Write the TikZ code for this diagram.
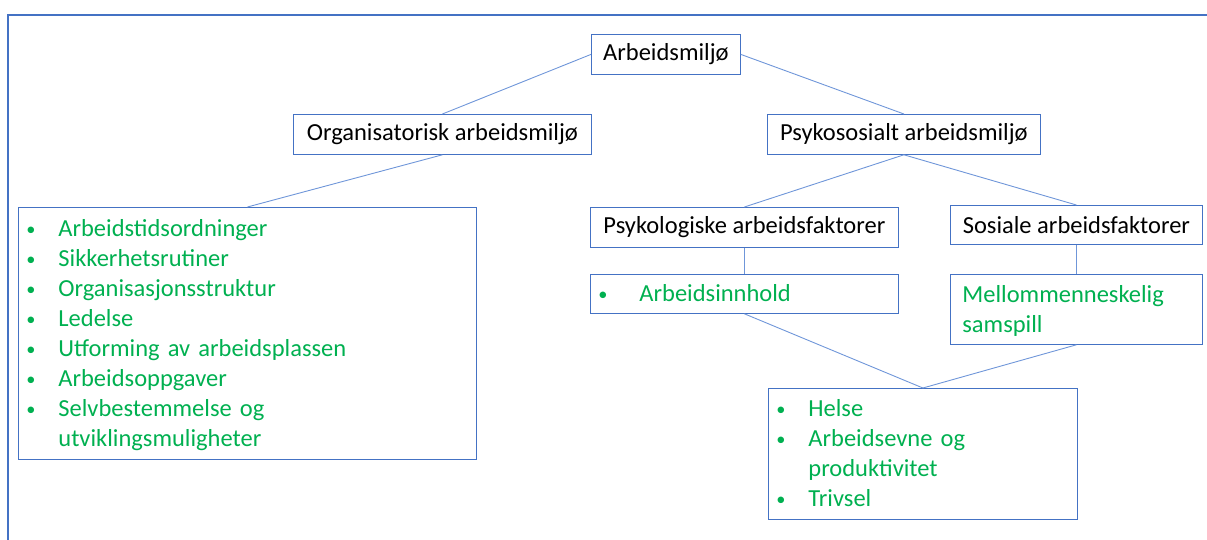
\documentclass[tikz,border=0pt]{standalone}
\usepackage{fontspec}
\setmainfont{Carlito}
\usepackage{tikz}
\usetikzlibrary{positioning}
\definecolor{kantblaa}{HTML}{4472C4}
\definecolor{linjeblaa}{HTML}{6F96D9}
\definecolor{tekstgronn}{HTML}{00B050}
\newcommand{\pkt}{\raisebox{1.4pt}{\scalebox{0.75}{\textbullet}}}
\newcommand{\senk}[1]{\raisebox{-2pt}[\height][\depth]{#1}}
\tikzstyle{boks} = [draw=kantblaa, line width=0.8pt, inner sep=0pt, anchor=north west, font=\fontsize{24.5}{30}\selectfont]
\tikzstyle{liste} = [boks, text=tekstgronn, align=left, inner xsep=8pt]
\tikzstyle{linje} = [draw=linjeblaa, line width=0.9pt]
\tikzstyle{ramme} = [draw=kantblaa, line width=1.6pt]

\begin{document}
\begin{tikzpicture}[x=1pt, y=-1pt]
		\useasboundingbox (0,0) rectangle (1207,540);
		\draw [ramme] (1207,15) -- (8,15) -- (8,540);
		\node [boks, minimum width=149pt, minimum height=40pt] (arbmiljo) at (591,34) {Arbeidsmiljø};
		\node [boks, minimum width=298pt, minimum height=40pt] (org) at (293,114) {Organisatorisk arbeidsmiljø};
		\node [boks, minimum width=273pt, minimum height=40pt] (psykos) at (767,114) {Psykososialt arbeidsmiljø};
		\node [boks, minimum width=308pt, minimum height=40pt] (psykfakt) at (590,207) {Psykologiske arbeidsfaktorer};
		\node [boks, minimum width=252pt, minimum height=39pt] (sosfakt) at (950,205) {Sosiale arbeidsfaktorer};
		\node [liste, text width=442pt, minimum height=252pt] (orgliste) at (18,207) {\senk{%
			\begin{tabular}{@{}p{32pt}@{}l@{}}
				\pkt & Arbeidstidsordninger\\
				\pkt & Sikkerhetsrutiner\\
				\pkt & Organisasjonsstruktur\\
				\pkt & Ledelse\\
				\pkt & Utforming av arbeidsplassen\\
				\pkt & Arbeidsoppgaver\\
				\pkt & Selvbestemmelse og\\
				 & utviklingsmuligheter
			\end{tabular}}};
		\node [liste, text width=292pt, minimum height=39pt] (innhold) at (590,274) {\senk{%
			\begin{tabular}{@{}p{41pt}@{}l@{}}
				\pkt & Arbeidsinnhold
			\end{tabular}}};
		\node [liste, inner xsep=12pt, text width=228pt, minimum height=70pt] (samspill) at (950,274) {\senk{%
			\begin{tabular}{@{}l@{}}
				Mellommenneskelig\\
				samspill
			\end{tabular}}};
		\node [liste, text width=293pt, minimum height=131pt] (helse) at (768,388) {\senk{%
			\begin{tabular}{@{}p{32pt}@{}l@{}}
				\pkt & Helse\\
				\pkt & Arbeidsevne og\\
				 & produktivitet\\
				\pkt & Trivsel
			\end{tabular}}};
		\draw [linje] (arbmiljo.west) -- (org.north);
		\draw [linje] (arbmiljo.east) -- (psykos.north);
		\draw [linje] (org.south) -- (orgliste.north);
		\draw [linje] (psykos.south) -- (psykfakt.north);
		\draw [linje] (psykos.south) -- (sosfakt.north);
		\draw [linje] (psykfakt.south) -- (innhold.north);
		\draw [linje] (sosfakt.south) -- (samspill.north);
		\draw [linje] (innhold.south) -- (helse.north);
		\draw [linje] (samspill.south) -- (helse.north);
	\end{tikzpicture}
\end{document}
